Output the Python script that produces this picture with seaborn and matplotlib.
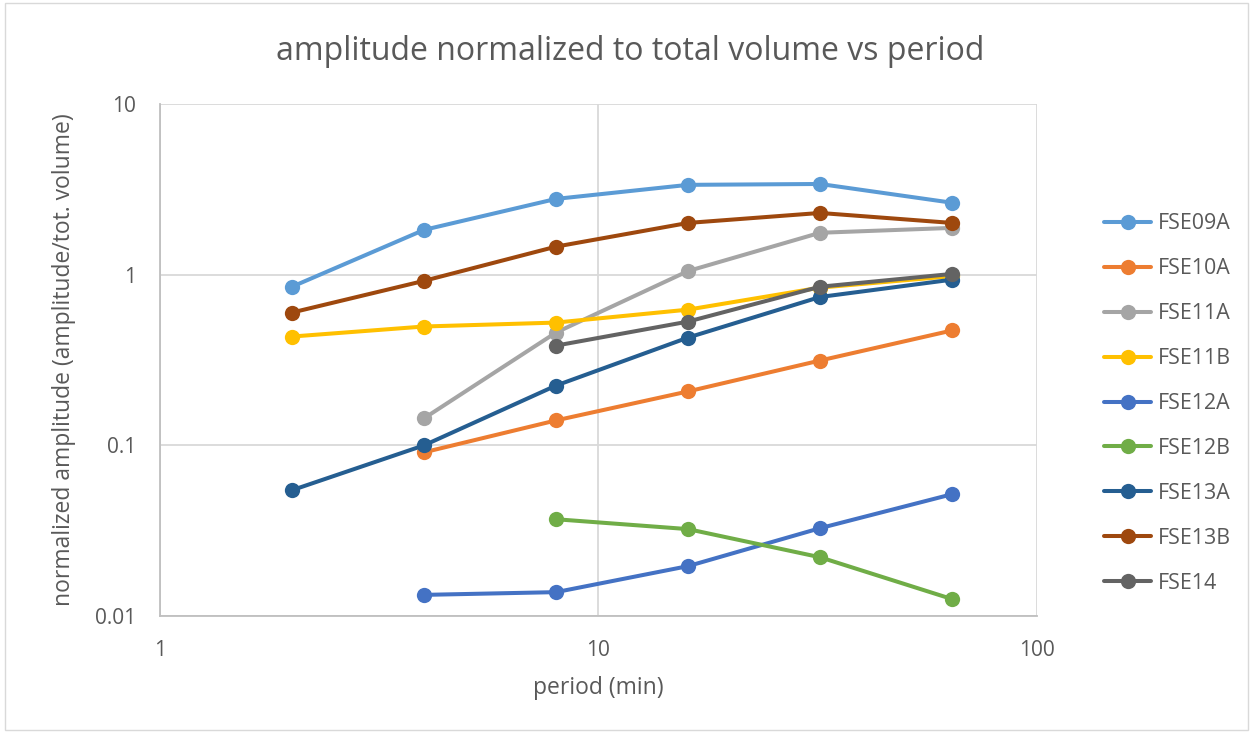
import numpy as np
import pandas as pd
import matplotlib
matplotlib.use("Agg")
import matplotlib.pyplot as plt
import seaborn as sns
from matplotlib.ticker import FixedLocator, FixedFormatter, NullLocator

# period in minutes
period = [2, 4, 8, 16, 32, 64]

FSE09A = [0.85, 1.83, 2.78, 3.36, 3.40, 2.64]
FSE10A = [np.nan, 0.091, 0.140, 0.207, 0.314, 0.471]
FSE11A = [np.nan, 0.144, 0.458, 1.05, 1.76, 1.88]
FSE11B = [0.434, 0.497, 0.524, 0.624, 0.84, 0.98]
FSE12A = [np.nan, 0.0133, 0.0138, 0.0196, 0.0327, 0.0517]
FSE12B = [np.nan, np.nan, 0.0369, 0.0323, 0.0221, 0.01257]
FSE13A = [0.0546, 0.100, 0.224, 0.428, 0.74, 0.935]
FSE13B = [0.60, 0.92, 1.46, 2.01, 2.30, 2.01]
FSE14 = [np.nan, np.nan, 0.384, 0.531, 0.85, 1.01]

series_names = ["FSE09A", "FSE10A", "FSE11A", "FSE11B", "FSE12A",
                "FSE12B", "FSE13A", "FSE13B", "FSE14"]
series_values = [FSE09A, FSE10A, FSE11A, FSE11B, FSE12A,
                 FSE12B, FSE13A, FSE13B, FSE14]
colors = ["#5B9BD5", "#ED7D31", "#A5A5A5", "#FFC000", "#4472C4",
          "#70AD47", "#255E91", "#9E480E", "#636363"]

x_ticks = [1, 10, 100]
x_tick_labels = ["1", "10", "100"]
y_ticks = [0.01, 0.1, 1, 10]
y_tick_labels = ["0.01", "0.1", "1", "10"]

rows = []
for name, vals in zip(series_names, series_values):
    for p, v in zip(period, vals):
        if not np.isnan(v):
            rows.append({"period": p, "value": v, "series": name})
df = pd.DataFrame(rows)

sns.set_theme(style="white")
plt.rcParams["font.family"] = ["Open Sans", "DejaVu Sans"]
text_color = "#595959"

fig = plt.figure(figsize=(12.53, 7.33), dpi=100)
ax = fig.add_axes([0.1277, 0.1596, 0.6999, 0.6985])

sns.lineplot(data=df, x="period", y="value", hue="series",
             hue_order=series_names, palette=colors, marker="o",
             markersize=11, markeredgewidth=0, linewidth=2.9,
             ax=ax, legend=True)

ax.set_xscale("log")
ax.set_yscale("log")
ax.set_xlim(1, 100)
ax.set_ylim(0.01, 10)

ax.xaxis.set_major_locator(FixedLocator(x_ticks))
ax.xaxis.set_major_formatter(FixedFormatter(x_tick_labels))
ax.xaxis.set_minor_locator(NullLocator())
ax.yaxis.set_major_locator(FixedLocator(y_ticks))
ax.yaxis.set_major_formatter(FixedFormatter(y_tick_labels))
ax.yaxis.set_minor_locator(NullLocator())

ax.grid(True, which="major", color="#D9D9D9", linewidth=1.3)
ax.set_axisbelow(True)
for side in ["top", "right"]:
    ax.spines[side].set_visible(False)
for side in ["left", "bottom"]:
    ax.spines[side].set_color("#BFBFBF")
    ax.spines[side].set_linewidth(1.3)

ax.tick_params(axis="both", length=0, labelsize=15, colors=text_color)
ax.tick_params(axis="x", pad=17)
ax.tick_params(axis="y", pad=17)
ax.set_xlabel("period (min)", fontsize=16.5, color=text_color, labelpad=11)
ax.set_ylabel("normalized amplitude (amplitude/tot. volume)", fontsize=16.5,
              color=text_color, labelpad=14)

fig.text(0.503, 0.93, "amplitude normalized to total volume vs period",
         ha="center", va="center", fontsize=23, color=text_color)

handles, labels = ax.get_legend_handles_labels()
ax.get_legend().remove()
leg = fig.legend(handles, labels, loc="center left",
                 bbox_to_anchor=(0.866, 0.4495), frameon=False,
                 fontsize=15.4, labelspacing=1.12, handlelength=2.2,
                 handletextpad=0.3, labelcolor=text_color)

# light border around the whole figure
fig.patches.append(plt.Rectangle((0.004, 0.004), 0.992, 0.992,
                                 transform=fig.transFigure, fill=False,
                                 edgecolor="#D9D9D9", linewidth=1))

fig.savefig("out.png", dpi=100, facecolor="white")
